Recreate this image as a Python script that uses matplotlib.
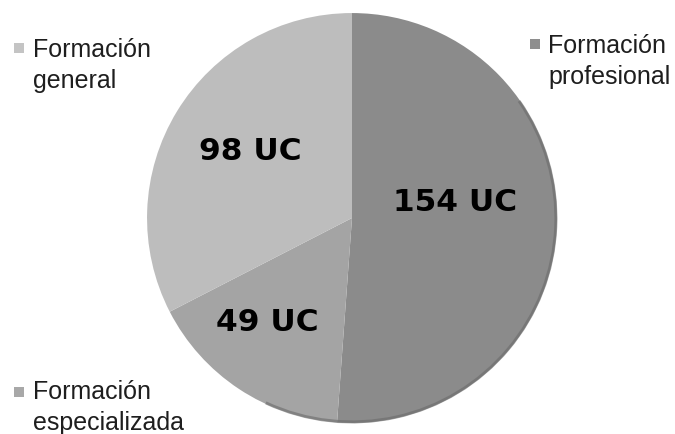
import numpy as np
import matplotlib
matplotlib.use("Agg")
import matplotlib.pyplot as plt
from matplotlib.patches import Rectangle, Arc

# credit units per block of the study plan
categorias = ["Formación profesional", "Formación especializada", "Formación general"]
unidades = [154, 49, 98]
etiquetas = ["154 UC", "49 UC", "98 UC"]
colores = ["#8b8b8b", "#a4a4a4", "#bdbdbd"]

W, H = 675, 435
fig = plt.figure(figsize=(W / 100, H / 100), dpi=100)
fig.patch.set_facecolor("white")


def fx(px):
    return px / W


def fy(py):
    return 1 - py / H


# pie centred at (352, 219) px, radius 207 px
cx, cy, r = 352, 219, 207
ax = fig.add_axes([fx(cx - r), fy(cy + r), 2 * r / W, 2 * r / H])
wedges, _ = ax.pie(unidades, colors=colores, startangle=90, counterclock=False,
                   radius=1, wedgeprops=dict(linewidth=0))
# soft darker rim on the lower right
ax.add_patch(Arc((0, 0), 1.99, 1.99, theta1=-115, theta2=35, color="#6a6a6a",
                 lw=2.2, alpha=0.6))
ax.set_xlim(-1.01, 1.01)
ax.set_ylim(-1.01, 1.01)
ax.set_aspect("equal")
ax.axis("off")

# value labels inside the slices
pos_etiquetas = [(455, 203), (267, 323), (250, 152)]
for txt, (px, py) in zip(etiquetas, pos_etiquetas):
    fig.text(fx(px), fy(py), txt, ha="center", va="center", fontsize=22.5,
             family="DejaVu Sans", weight="bold", color="black")

# legend entries placed around the pie
leyenda = [
    (categorias[2], "#c4c4c4", 14, 44, 33, 50),
    (categorias[0], "#8e8e8e", 530, 40, 548, 46),
    (categorias[1], "#a8a8a8", 14, 388, 33, 392),
]
for nombre, col, sx, sy, tx, ty in leyenda:
    fig.patches.append(Rectangle((fx(sx), fy(sy + 10)), 10 / W, 10 / H,
                                 transform=fig.transFigure, facecolor=col,
                                 edgecolor="none"))
    primera, segunda = nombre.split(" ")
    fig.text(fx(tx), fy(ty), primera, ha="left", va="center", fontsize=18,
             family="Liberation Sans", color="#1e1e1e")
    fig.text(fx(tx), fy(ty + 31), segunda, ha="left", va="center", fontsize=18,
             family="Liberation Sans", color="#1e1e1e")

fig.savefig("out.png", dpi=100, facecolor="white")
